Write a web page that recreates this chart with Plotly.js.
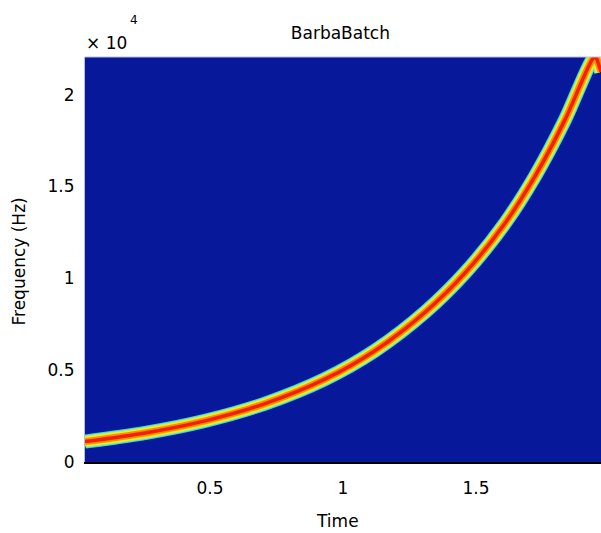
<!DOCTYPE html>
<html><head><meta charset="utf-8">
<script src="https://cdn.plot.ly/plotly-3.0.1.min.js"></script>
<style>html,body{margin:0;padding:0;background:#fff}#chart{width:601px;height:533px}</style>
</head><body><div id="chart"></div>
<script>
// Ridge of the chirp: time (s) and instantaneous frequency (Hz)
const ridgeTime = [0.030, 0.256, 0.481, 0.707, 0.932, 1.120, 1.308, 1.459, 1.609, 1.722, 1.835, 1.940, 1.952];
const ridgeFreq = [1110, 1580, 2240, 3180, 4510, 6060, 8150, 10300, 13000, 15560, 18640, 21970, 22050];
// Part folded back below Nyquist
const aliasTime = [1.952, 1.970];
const aliasFreq = [22050, 21250];

const xTickVals = [0.5, 1, 1.5];
const xTickText = ['0.5', '1', '1.5'];
const yTickVals = [0, 5000, 10000, 15000, 20000];
const yTickText = ['0', '0.5', '1', '1.5', '2'];
const timeRange = [0.03, 1.97];
const freqRange = [0, 22050];

// jet-like shading from the edge of the ridge in to its core
const bands = [
  {w: 14, c: '#38D8E8'},
  {w: 12, c: '#A0F080'},
  {w: 10, c: '#F4EC20'},
  {w: 7, c: '#FF9000'},
  {w: 3.5, c: '#F02000'}
];

const traces = [];
bands.forEach(b => {
  [[ridgeTime, ridgeFreq], [aliasTime, aliasFreq]].forEach(([xs, ys]) => {
    traces.push({
      type: 'scatter', mode: 'lines', x: xs, y: ys,
      line: {color: b.c, width: b.w, shape: 'spline', smoothing: 0.8},
      hoverinfo: 'skip', showlegend: false
    });
  });
});

const fam = '"DejaVu Sans", Verdana, sans-serif';
const font = {family: fam, size: 17, color: '#000'};

const layout = {
  width: 601, height: 533,
  margin: {l: 85, r: 0, t: 57, b: 71, pad: 0},
  paper_bgcolor: '#ffffff',
  plot_bgcolor: '#07189A',
  font: font,
  showlegend: false,
  title: {text: 'BarbaBatch', font: {size: 17, family: fam, color: '#000'},
          x: 0.495, xanchor: 'center', xref: 'paper', y: 1 - 33 / 533, yanchor: 'middle', yref: 'container'},
  xaxis: {
    range: timeRange, tickvals: xTickVals, ticktext: xTickText,
    showgrid: false, zeroline: false, ticks: '', ticklabelstandoff: 10,
    showline: true, linecolor: '#000', linewidth: 2,
    fixedrange: true
  },
  yaxis: {
    range: freqRange, tickvals: yTickVals, ticktext: yTickText,
    showgrid: false, zeroline: false, ticks: '', ticklabelstandoff: 6,
    showline: true, linecolor: '#b8bcd8', linewidth: 1,
    fixedrange: true
  },
  shapes: [
    {type: 'line', xref: 'paper', yref: 'paper', x0: 0, x1: 1, y0: 1, y1: 1,
     line: {color: '#b8bcd8', width: 1}}
  ],
  annotations: [
    {text: 'Time', xref: 'paper', yref: 'paper', x: 0.5, y: 0, xanchor: 'center', yanchor: 'middle',
     xshift: -6, yshift: -59, showarrow: false, font: {size: 17}},
    {text: 'Frequency (Hz)', xref: 'paper', yref: 'paper', x: 0, y: 0.5, xanchor: 'center', yanchor: 'middle',
     textangle: -90, xshift: -67, yshift: -2, showarrow: false, font: {size: 17}},
    {text: '× 10', xref: 'paper', yref: 'paper', x: 0, y: 1, xanchor: 'left', yanchor: 'middle',
     yshift: 14, xshift: -1, showarrow: false, font: {size: 17}},
    {text: '4', xref: 'paper', yref: 'paper', x: 0, y: 1, xanchor: 'left', yanchor: 'middle',
     yshift: 37, xshift: 43, showarrow: false, font: {size: 12}}
  ]
};

Plotly.newPlot('chart', traces, layout, {displayModeBar: false, staticPlot: true});
</script>
</body></html>
